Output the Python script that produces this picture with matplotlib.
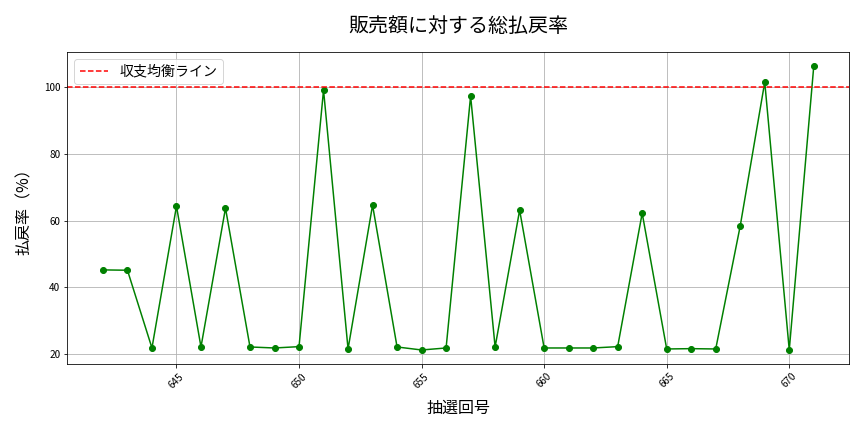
import numpy as np
import matplotlib
matplotlib.use('Agg')
import matplotlib.pyplot as plt

plt.rcParams['font.family'] = ['Noto Sans CJK JP', 'DejaVu Sans']

# draw numbers and payout ratio (%)
draws = np.arange(642, 672)
payout = [45.2, 45.1, 21.8, 64.3, 22.1, 63.7, 22.1, 21.8, 22.2, 99.1,
          21.5, 64.6, 22.1, 21.2, 21.8, 97.3, 22.1, 63.1, 21.8, 21.8,
          21.8, 22.2, 62.2, 21.5, 21.6, 21.5, 58.4, 101.5, 21.2, 106.3]
breakeven = 100

fig = plt.figure(figsize=(12, 6), dpi=72)
ax = fig.add_subplot(111)
ax.plot(draws, payout, marker='o', color='green', linewidth=1.5, markersize=6)
ax.axhline(breakeven, color='red', linestyle='--', linewidth=1.5, label='収支均衡ライン')

ax.set_title('販売額に対する総払戻率', fontsize=20, pad=20)
ax.set_xlabel('抽選回号', fontsize=16, labelpad=10)
ax.set_ylabel('払戻率（%）', fontsize=16, labelpad=11)
ax.tick_params(axis='x', labelrotation=45, labelsize=10)
ax.tick_params(axis='y', labelsize=10)
ax.grid(True)
ax.legend(loc='upper left', fontsize=14)

fig.subplots_adjust(left=0.078, right=0.983, top=0.88, bottom=0.157)
plt.savefig('out.png')
